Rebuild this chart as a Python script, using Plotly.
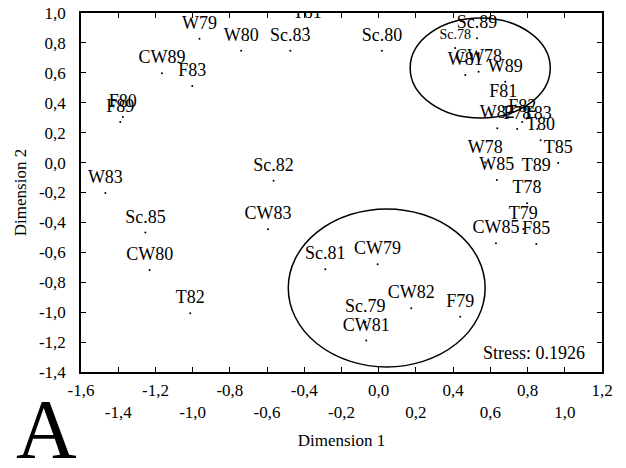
import plotly.graph_objects as go

# ---- data ----
labels = ["W78", "W79", "W80", "W81", "W82", "W83", "W85", "W89",
          "CW78", "CW79", "CW80", "CW81", "CW82", "CW83", "CW85", "CW89",
          "F78", "F79", "F80", "F81", "F82", "F83", "F85", "F89",
          "T78", "T79", "T80", "T81", "T82", "T83", "T85", "T89",
          "Sc.78", "Sc.79", "Sc.80", "Sc.81", "Sc.82", "Sc.83", "Sc.85", "Sc.89"]
dim1 = [0.572, -0.963, -0.739, 0.465, 0.637, -1.469, 0.635, 0.680,
        0.537, -0.006, -1.231, -0.067, 0.175, -0.595, 0.630, -1.165,
        0.744, 0.438, -1.375, 0.669, 0.771, -1.002, 0.847, -1.389,
        0.797, 0.777, 0.870, -0.384, -1.013, 0.852, 0.965, 0.847,
        0.411, -0.072, 0.017, -0.287, -0.565, -0.475, -1.254, 0.528]
dim2 = [0.000, 0.828, 0.748, 0.586, 0.229, -0.203, -0.116, 0.541,
        0.608, -0.680, -0.718, -1.190, -0.974, -0.446, -0.540, 0.597,
        0.225, -1.030, 0.305, 0.372, 0.271, 0.512, -0.544, 0.271,
        -0.272, -0.444, 0.150, 0.900, -1.007, 0.225, -0.003, -0.123,
        0.766, -1.066, 0.748, -0.713, -0.121, 0.748, -0.468, 0.831]
small_labels = ["Sc.78"]

x_tickvals = [-1.6, -1.4, -1.2, -1.0, -0.8, -0.6, -0.4, -0.2, 0.0, 0.2, 0.4, 0.6, 0.8, 1.0, 1.2]
x_ticklabels = ["-1,6", "-1,4", "-1,2", "-1,0", "-0,8", "-0,6", "-0,4", "-0,2",
                "0,0", "0,2", "0,4", "0,6", "0,8", "1,0", "1,2"]
y_tickvals = [1.0, 0.8, 0.6, 0.4, 0.2, 0.0, -0.2, -0.4, -0.6, -0.8, -1.0, -1.2, -1.4]
y_ticklabels = ["1,0", "0,8", "0,6", "0,4", "0,2", "0,0", "-0,2", "-0,4",
                "-0,6", "-0,8", "-1,0", "-1,2", "-1,4"]

# cluster ellipses (data coordinates)
ellipse_upper = dict(x0=0.169, x1=0.922, y0=0.298, y1=0.967)
ellipse_lower = dict(x0=-0.486, x1=0.572, y0=-1.366, y1=-0.310)
stress_text = "Stress: 0.1926"

FONT = "Liberation Serif, Times New Roman, serif"

# staggered x tick labels: every second label on a second line
x_ticktext = [t if i % 2 == 0 else "<br>" + t for i, t in enumerate(x_ticklabels)]
label_sizes = [14 if l in small_labels else 18 for l in labels]

fig = go.Figure()
fig.add_trace(go.Scatter(
    x=dim1, y=dim2, mode="markers",
    marker=dict(size=2, color="black"),
    hoverinfo="skip", showlegend=False))
fig.add_trace(go.Scatter(
    x=dim1, y=dim2, mode="markers+text", text=labels,
    textposition="top center",
    marker=dict(size=7, color="rgba(0,0,0,0)"),
    textfont=dict(family=FONT, size=label_sizes, color="black"),
    showlegend=False))

for e in (ellipse_upper, ellipse_lower):
    fig.add_shape(type="circle", xref="x", yref="y", **e,
                  line=dict(color="black", width=1.5), layer="above")

fig.add_annotation(x=0.971, y=-1.27, xref="paper", yref="y", text=stress_text,
                   showarrow=False, xanchor="right", yanchor="middle",
                   font=dict(family=FONT, size=18, color="black"))
fig.add_annotation(x=-0.067, y=-0.16, xref="paper", yref="paper", text="A",
                   showarrow=False, xanchor="center", yanchor="middle",
                   font=dict(family=FONT, size=84, color="black"))

axis_common = dict(showgrid=False, zeroline=False, showline=True, linecolor="black",
                   linewidth=1.5, mirror="ticks", ticks="inside", ticklen=5,
                   tickcolor="black", automargin=False,
                   tickfont=dict(family=FONT, size=17, color="black"))
fig.update_xaxes(range=[-1.6, 1.2], tickvals=x_tickvals, ticktext=x_ticktext,
                 title=dict(text="Dimension 1", font=dict(family=FONT, size=17, color="black"),
                            standoff=13),
                 ticklabelstandoff=2, **axis_common)
fig.update_yaxes(range=[-1.4, 1.0], tickvals=y_tickvals, ticktext=y_ticklabels,
                 title=dict(text="Dimension 2", font=dict(family=FONT, size=17, color="black"),
                            standoff=8),
                 ticklabelstandoff=10, **axis_common)

fig.update_layout(width=626, height=468,
                  margin=dict(l=81, r=24, t=13, b=96),
                  plot_bgcolor="white", paper_bgcolor="white",
                  font=dict(family=FONT, color="black"))
fig.write_html("out.html", config={"displayModeBar": False},
               post_script="document.body.style.margin='0px';")
